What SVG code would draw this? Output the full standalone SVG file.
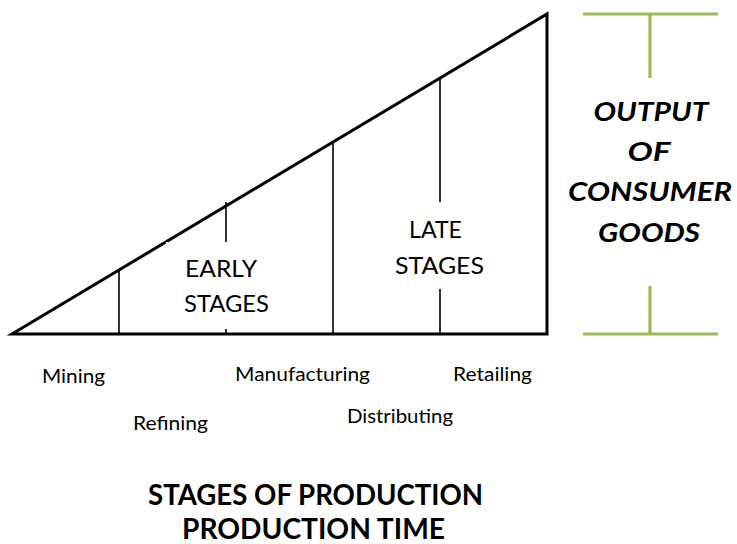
<svg xmlns="http://www.w3.org/2000/svg" width="737" height="544" viewBox="0 0 737 544">
<style>
.frame{fill:none;stroke:#000;stroke-width:3;stroke-linejoin:miter}
.div{stroke:#000;stroke-width:1.6;fill:none}
.green{stroke:#9bbb59;stroke-width:3.2;fill:none}
.lbl{font-family:Lato,"Open Sans",sans-serif;font-size:18.5px;fill:#000}
.stage{font-family:Lato,"Open Sans",sans-serif;font-size:23.5px;fill:#000}
.out{font-family:Lato,"Open Sans",sans-serif;font-size:27px;font-weight:bold;font-style:italic;fill:#000;text-anchor:middle}
.title{font-family:Lato,"Open Sans",sans-serif;font-size:29px;font-weight:bold;fill:#000}
</style>
<rect width="737" height="544" fill="#fff"/>
<g id="connectors">
<path class="frame" d="M12,334 L547,14 L547,334 Z"/>
<line class="div" x1="119" y1="270" x2="119" y2="334"/>
<line class="div" x1="226" y1="202" x2="226" y2="334"/>
<line class="div" x1="333" y1="143" x2="333" y2="334"/>
<line class="div" x1="440" y1="78" x2="440" y2="334"/>
</g>
<g id="early">
<rect x="166" y="242" width="118" height="87" fill="#fff"/>
<text class="stage" x="185" y="277" textLength="72" lengthAdjust="spacingAndGlyphs">EARLY</text>
<text class="stage" x="184" y="312" textLength="85" lengthAdjust="spacingAndGlyphs">STAGES</text>
</g>
<g id="late">
<rect x="384" y="202" width="110" height="87" fill="#fff"/>
<text class="stage" x="409" y="238" textLength="53" lengthAdjust="spacingAndGlyphs">LATE</text>
<text class="stage" x="395" y="274" textLength="89" lengthAdjust="spacingAndGlyphs">STAGES</text>
</g>
<g id="output">
<path class="green" d="M583,14 H718 M650,14 V78 M650,286 V334 M583,334 H718"/>
<text class="out" x="651" y="121" textLength="115" lengthAdjust="spacingAndGlyphs">OUTPUT</text>
<text class="out" x="649" y="161" textLength="43" lengthAdjust="spacingAndGlyphs">OF</text>
<text class="out" x="650" y="201" textLength="164" lengthAdjust="spacingAndGlyphs">CONSUMER</text>
<text class="out" x="649" y="242" textLength="102" lengthAdjust="spacingAndGlyphs">GOODS</text>
</g>
<g id="labels">
<text class="lbl" x="42" y="383" textLength="63" lengthAdjust="spacingAndGlyphs">Mining</text>
<text class="lbl" x="235" y="381" textLength="135" lengthAdjust="spacingAndGlyphs">Manufacturing</text>
<text class="lbl" x="453" y="381" textLength="79" lengthAdjust="spacingAndGlyphs">Retailing</text>
<text class="lbl" x="133" y="430" textLength="75" lengthAdjust="spacingAndGlyphs">Refining</text>
<text class="lbl" x="347" y="423" textLength="106" lengthAdjust="spacingAndGlyphs">Distributing</text>
</g>
<g id="title">
<text class="title" x="148" y="505" textLength="335" lengthAdjust="spacingAndGlyphs">STAGES OF PRODUCTION</text>
<text class="title" x="182" y="539" textLength="263" lengthAdjust="spacingAndGlyphs">PRODUCTION TIME</text>
</g>
</svg>
